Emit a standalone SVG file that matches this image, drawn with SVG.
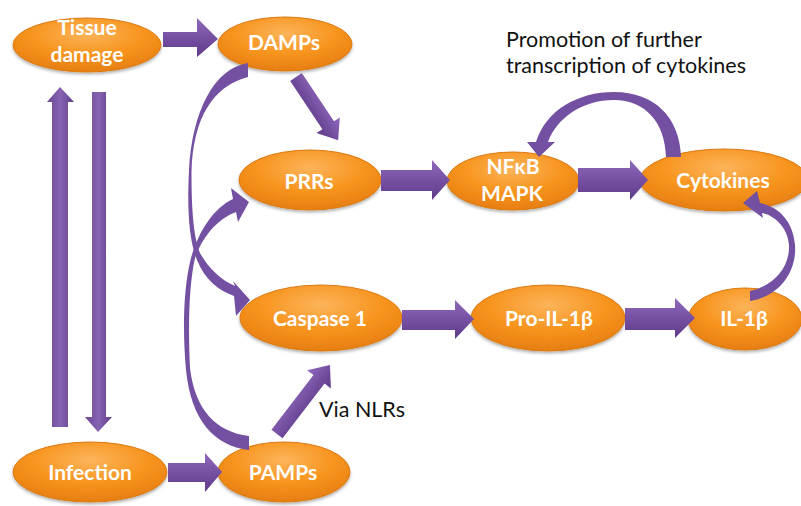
<svg xmlns="http://www.w3.org/2000/svg" width="801" height="506" viewBox="0 0 801 506">
<defs>
<radialGradient id="og" cx="50%" cy="30%" r="70%">
<stop offset="0" stop-color="#FCB45A"/>
<stop offset="0.55" stop-color="#F7941E"/>
<stop offset="1" stop-color="#E67E10"/>
</radialGradient>
<linearGradient id="pg" x1="0" y1="0" x2="0" y2="1">
<stop offset="0" stop-color="#8E69BC"/>
<stop offset="0.5" stop-color="#7650A3"/>
<stop offset="1" stop-color="#5E3B88"/>
</linearGradient>
<linearGradient id="pv" x1="0" y1="0" x2="1" y2="0">
<stop offset="0" stop-color="#6A4695"/>
<stop offset="0.5" stop-color="#8763B3"/>
<stop offset="1" stop-color="#5E3B88"/>
</linearGradient>
<filter id="sh" x="-10%" y="-10%" width="120%" height="130%">
<feDropShadow dx="0" dy="2" stdDeviation="1.5" flood-color="#000" flood-opacity="0.3"/>
</filter>
</defs>
<style>
.node ellipse{fill:url(#og);stroke:#DC7A12;stroke-width:1;filter:url(#sh)}
.node text{font-family:Lato,"Open Sans","Liberation Sans",sans-serif;font-weight:700;font-size:21px;fill:#fff;text-anchor:middle}
.arr{fill:url(#pg)}
.varr{fill:url(#pv)}
.curve{fill:#7450A2}
.lbl{font-family:Lato,"Open Sans","Liberation Sans",sans-serif;font-size:21.5px;fill:#111}
</style>
<rect width="801" height="506" fill="#fff"/>
<g id="tissue-damage" class="node"><ellipse cx="87" cy="45" rx="74" ry="27"/><text x="87" y="35">Tissue</text><text x="87" y="62">damage</text></g>
<g id="damps" class="node"><ellipse cx="285" cy="44" rx="67" ry="27"/><text x="284" y="50">DAMPs</text></g>
<g id="prrs" class="node"><ellipse cx="310" cy="180" rx="71" ry="30"/><text x="309" y="189">PRRs</text></g>
<g id="nfkb-mapk" class="node"><ellipse cx="513" cy="181" rx="66" ry="29"/><text x="513" y="174">NFκB</text><text x="512" y="201">MAPK</text></g>
<g id="cytokines" class="node"><ellipse cx="724" cy="180" rx="84" ry="31"/><text x="723" y="188">Cytokines</text></g>
<g id="caspase1" class="node"><ellipse cx="321" cy="318" rx="81" ry="33"/><text x="320" y="326">Caspase 1</text></g>
<g id="pro-il1b" class="node"><ellipse cx="548" cy="318" rx="77" ry="33"/><text x="549" y="326">Pro-IL-1β</text></g>
<g id="il1b" class="node"><ellipse cx="745" cy="319" rx="57" ry="31"/><text x="744" y="326">IL-1β</text></g>
<g id="infection" class="node"><ellipse cx="90" cy="472" rx="77" ry="30"/><text x="90" y="480">Infection</text></g>
<g id="pamps" class="node"><ellipse cx="284" cy="472" rx="66" ry="30"/><text x="283" y="480">PAMPs</text></g>
<g id="connectors">
<path class="arr" d="M163,32 L197,32 L197,18 L218,39 L197,57 L197,47 L163,47 Z"/>
<path class="arr" d="M168,463 L205,463 L205,453 L222,472 L205,492 L205,482 L168,482 Z"/>
<path class="arr" d="M381,170 L432,170 L432,160 L450,180 L432,200 L432,191 L381,191 Z"/>
<path class="arr" d="M578,168 L630,168 L630,160 L648,180 L630,200 L630,192 L578,192 Z"/>
<path class="arr" d="M402,310 L455,310 L455,300 L474,319 L455,339 L455,330 L402,330 Z"/>
<path class="arr" d="M625,308 L675,308 L675,298 L695,318 L675,338 L675,330 L625,330 Z"/>
<path class="varr" d="M52,427 L52,102 L47,102 L60,87 L74,102 L68,102 L68,427 Z"/>
<path class="varr" d="M92,92 L106,92 L106,417 L112,417 L98,432 L85,417 L92,417 Z"/>
<path class="arr" transform="translate(296,77) rotate(56.3)" d="M0,-7 L58,-7 L58,-14 L76,0 L58,14 L58,7 L0,7 Z"/>
<path class="arr" transform="translate(277,434) rotate(-52.5)" d="M0,-7 L69,-7 L69,-15 L87,0 L69,15 L69,7 L0,7 Z"/>
<path class="curve" d="M248,63 C214,68 192,112 189,170 C187,210 189,240 197,260 C205,280 218,290 234,296 L236,316 L250,300 L233,281 L235,286 C221,280 209,269 200,253 C193,236 191.5,205 191.5,172 C193,118 213,86 248,77 Z"/>
<path class="curve" d="M249,450 C214,446 191,420 186,370 C182,325 184,285 191,258 C199,230 214,208 233,199 L231,188 L249,202 L238,222 L236,212 C220,218 204,233 195,258 C189,285 188,325 190,368 C195,410 216,432 249,436 Z"/>
<path class="curve" d="M681,157 C680,118 655,92 614,92 C578,92 546,110 536,142 L527,142 L539,157 L555,142 L548,142 C557,118 582,100 614,100 C645,100 665,122 666,157 Z"/>
<path class="curve" d="M750,301 C781,296 797,270 795,245 C793,222 780,207 760,203 L757,191 L743,203 L763,218 L762,213 C777,216 788,230 789,245 C790,268 773,286 750,291 Z"/>
</g>
<text class="lbl" x="506" y="47">Promotion of further</text>
<text class="lbl" x="506" y="73">transcription of cytokines</text>
<text class="lbl" x="319" y="417">Via NLRs</text>
</svg>
